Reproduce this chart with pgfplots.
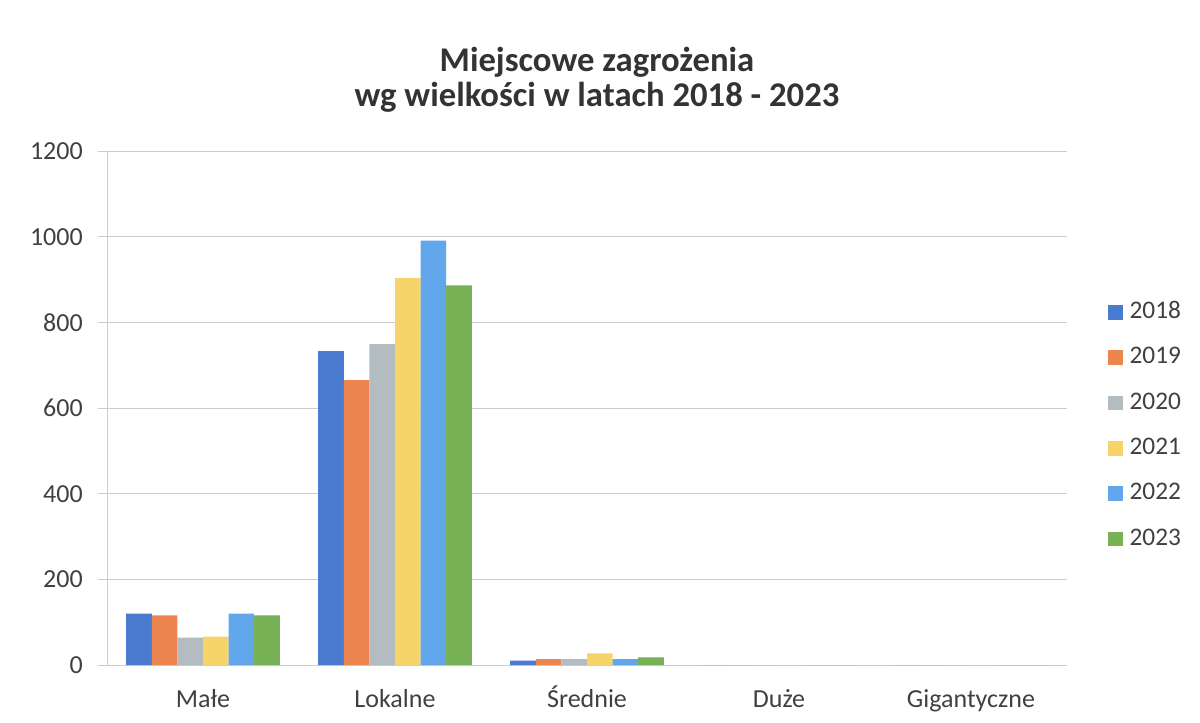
\documentclass[border=0pt]{standalone}
\usepackage{pgfplots}
\pgfplotsset{compat=1.18}
\usepackage{pgfplotstable}
\usepackage{fontspec}
\setmainfont{Carlito}
\definecolor{c18}{HTML}{4A7BD0}
\definecolor{c19}{HTML}{EC8550}
\definecolor{c20}{HTML}{B3BCC0}
\definecolor{c21}{HTML}{F7D46A}
\definecolor{c22}{HTML}{62A6EC}
\definecolor{c23}{HTML}{78B155}
\definecolor{txt}{HTML}{404040}
\definecolor{gridc}{HTML}{C8CDD4}
\pgfplotstableread{
x y18 y19 y20 y21 y22 y23
0 120 116 64 66 120 116
1 733 665 749 903 991 886
2 10 14 14 27 14 18
3 0 0 0 0 0 0
4 0 0 0 0 0 0
}\data
\begin{document}
\begin{tikzpicture}
\useasboundingbox (0,0) rectangle (900pt,541.5pt);
\node[font=\bfseries\fontsize{26}{31}\selectfont, text=black!80, anchor=base] at (447.75pt,488pt) {Miejscowe zagrożenia};
\node[font=\bfseries\fontsize{26}{31}\selectfont, text=black!80, anchor=base] at (447.75pt,461.25pt) {wg wielkości w latach 2018 - 2023};
\begin{axis}[
  at={(80.25pt,42.75pt)}, anchor=south west,
  scale only axis, width=720pt, height=385.5pt,
  xmin=-0.5, xmax=4.5, ymin=0, ymax=1200,
  ytick={0,200,...,1200},
  xtick={0,...,4},
  xticklabels={Małe,Lokalne,Średnie,Duże,Gigantyczne},
  axis x line*=bottom, axis y line*=left,
  axis line style={gridc,-},
  ymajorgrids, grid style={gridc, line width=0.6pt},
  tick align=outside,
  major tick length=6.75pt,
  tick style={gridc, line width=0.6pt},
  xtick style={draw=none},
  extra x ticks={-0.5,0.5,1.5,2.5,3.5,4.5},
  extra x tick labels={},
  extra x tick style={grid=none, major tick length=5.25pt, tick style={draw=gridc}},
  /pgf/number format/1000 sep={},
  /pgf/number format/assume math mode=true,
  y tick label style={font=\fontsize{19.5}{23}\selectfont, text=txt, anchor=east, inner sep=0pt, xshift=-11.25pt},
  x tick label style={font=\fontsize{19.5}{23}\selectfont, text=txt, anchor=base, inner sep=0pt, yshift=-24.75pt},
  legend style={at={(1.0427,0.706)}, anchor=north west, draw=none, fill=none,
    font=\fontsize{19}{23}\selectfont, text=txt, inner sep=0pt, row sep=21pt, column sep=5pt,
    nodes={inner sep=0pt, text height=12pt, text depth=0pt}},
  legend cell align=left,
  legend image code/.code={\fill[#1] (0pt,-7pt) rectangle (11pt,4pt);},
]
\addplot[ybar, fill=c18, draw=none, bar width=0.1333, bar shift=-0.3333] table[x=x,y=y18]{\data};
\addplot[ybar, fill=c19, draw=none, bar width=0.1333, bar shift=-0.2] table[x=x,y=y19]{\data};
\addplot[ybar, fill=c20, draw=none, bar width=0.1333, bar shift=-0.0667] table[x=x,y=y20]{\data};
\addplot[ybar, fill=c21, draw=none, bar width=0.1333, bar shift=0.0667] table[x=x,y=y21]{\data};
\addplot[ybar, fill=c22, draw=none, bar width=0.1333, bar shift=0.2] table[x=x,y=y22]{\data};
\addplot[ybar, fill=c23, draw=none, bar width=0.1333, bar shift=0.3333] table[x=x,y=y23]{\data};
\legend{2018,2019,2020,2021,2022,2023}
\end{axis}
\end{tikzpicture}
\end{document}
